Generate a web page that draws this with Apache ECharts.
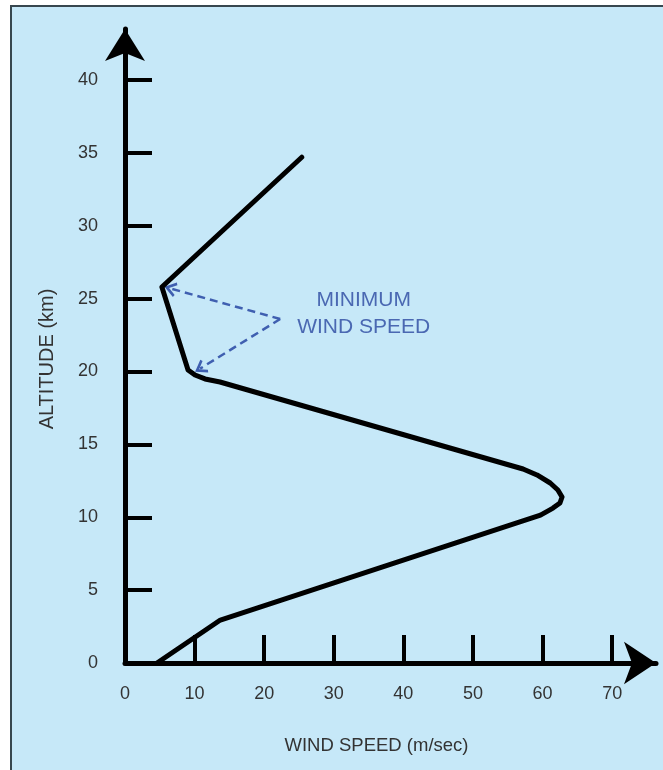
<!DOCTYPE html>
<html>
<head>
<meta charset="utf-8">
<script src="https://cdn.jsdelivr.net/npm/echarts@6/dist/echarts.min.js"></script>
<style>
  html, body { margin: 0; padding: 0; background: #ffffff; }
  #chart { width: 663px; height: 770px; }
</style>
</head>
<body>
<div id="chart"></div>
<script>
// Wind speed (m/sec) vs altitude (km) profile
const windSpeed = [4.6, 13.7, 56.3, 59.7, 61.5, 62.5, 62.8, 62.2, 61.1, 59.2, 57.2, 13.65, 11.5, 10.06, 9.06, 5.3, 25.4];
const altitude  = [0, 2.95, 9.61, 10.15, 10.63, 10.98, 11.39, 11.87, 12.35, 12.90, 13.31, 19.28, 19.49, 19.76, 20.1, 25.8, 34.7];

const xTicks = [10, 20, 30, 40, 50, 60, 70];
const xLabels = [0, 10, 20, 30, 40, 50, 60, 70];
const yTicks = [5, 10, 15, 20, 25, 30, 35, 40];
const yLabels = [0, 5, 10, 15, 20, 25, 30, 35, 40];

// annotation: "minimum wind speed" arrows (start point, two targets) and text anchor
const noteText = 'MINIMUM\nWIND SPEED';
const noteAnchor = [34.3, 24.0];
const arrowFrom = [22.3, 23.6];
const arrowTargets = [[6.5, 25.7], [10.8, 20.2]];

const profile = windSpeed.map((v, i) => [v, altitude[i]]);

const chevron = 'path://M5,0 L10,9 L8.4,10 L5,4 L1.6,10 L0,9 Z';
const FONT = 'Liberation Sans, Arial, sans-serif';

const chart = echarts.init(document.getElementById('chart'), null, { renderer: 'canvas' });
const labelFont = { color: '#333333', fontSize: 18, fontFamily: FONT };

chart.setOption({
  animation: false,
  backgroundColor: 'transparent',
  graphic: [{
    type: 'rect',
    z: -100,
    silent: true,
    shape: { x: 11, y: 6, width: 720, height: 820 },
    style: { fill: '#c6e8f8', stroke: '#37474f', lineWidth: 2 }
  }],
  grid: { left: 125, right: 7, top: 29, bottom: 107, containLabel: false },
  xAxis: {
    type: 'value',
    min: 0,
    max: 76.3,
    interval: 10,
    name: 'WIND SPEED (m/sec)',
    nameLocation: 'middle',
    nameGap: 73,
    nameTextStyle: { color: '#333333', fontSize: 18.5, fontFamily: FONT, padding: [0, 28, 0, 0] },
    axisLine: {
      show: true, onZero: false,
      symbol: ['none', 'arrow'], symbolSize: [32, 32],
      lineStyle: { color: '#000', width: 5 }
    },
    axisTick: { show: true, inside: true, length: 28, customValues: xTicks, lineStyle: { color: '#000', width: 4 } },
    axisLabel: Object.assign({ margin: 22, customValues: xLabels }, labelFont),
    splitLine: { show: false }
  },
  yAxis: {
    type: 'value',
    min: 0,
    max: 43.5,
    interval: 5,
    name: 'ALTITUDE (km)',
    nameLocation: 'middle',
    nameGap: 68,
    nameTextStyle: { color: '#333333', fontSize: 20, fontFamily: FONT, padding: [0, 26, 0, 0] },
    axisLine: {
      show: true, onZero: false,
      symbol: ['none', 'arrow'], symbolSize: [30, 32],
      lineStyle: { color: '#000', width: 5 }
    },
    axisTick: { show: true, inside: true, length: 27, customValues: yTicks, lineStyle: { color: '#000', width: 4 } },
    axisLabel: Object.assign({ margin: 27, customValues: yLabels }, labelFont),
    splitLine: { show: false }
  },
  series: [{
    type: 'line',
    data: profile,
    showSymbol: false,
    symbol: 'none',
    z: 5,
    lineStyle: { color: '#000', width: 5, join: 'round', cap: 'round' },
    markLine: {
      silent: true,
      symbol: ['none', chevron],
      symbolSize: [15, 12],
      label: { show: false },
      lineStyle: { color: '#3f5fb0', width: 2.5, type: [8, 5] },
      data: arrowTargets.map(t => [{ coord: arrowFrom }, { coord: t }])
    },
    markPoint: {
      silent: true,
      symbol: 'circle',
      symbolSize: 1,
      itemStyle: { color: 'rgba(0,0,0,0)' },
      label: {
        show: true,
        position: 'inside',
        formatter: noteText,
        color: '#4a68b2',
        fontSize: 21,
        lineHeight: 27,
        fontFamily: FONT,
        align: 'center'
      },
      data: [{ coord: noteAnchor }]
    }
  }]
});
</script>
</body>
</html>
